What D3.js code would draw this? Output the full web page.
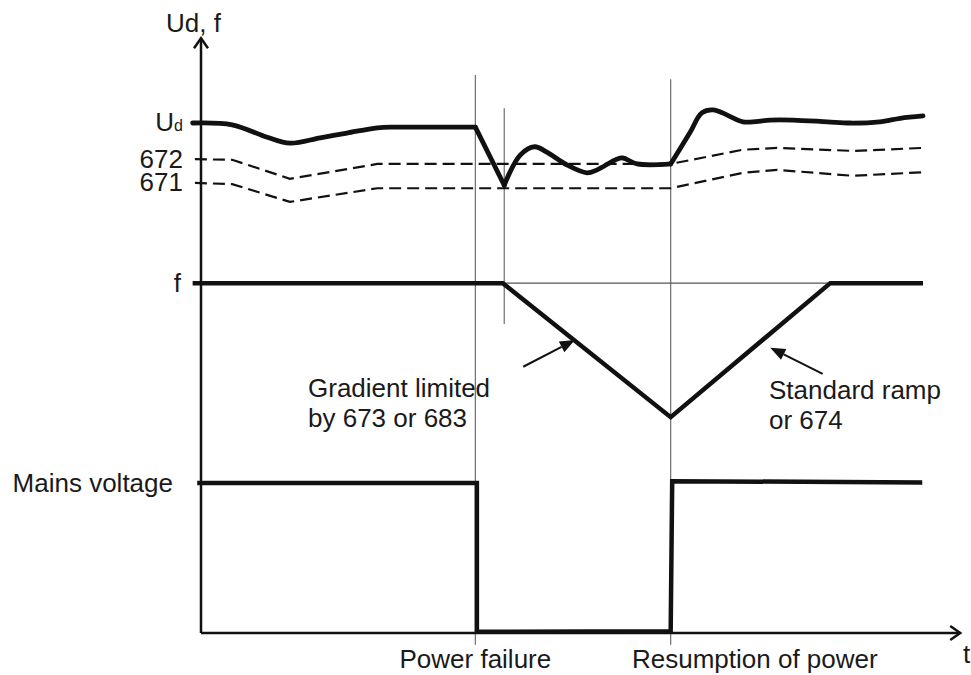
<!DOCTYPE html>
<html>
<head>
<meta charset="utf-8">
<script src="https://cdn.jsdelivr.net/npm/d3@7"></script>
<style>
  html, body { margin: 0; padding: 0; background: #fff; }
  svg { display: block; }
  text { font-family: "Liberation Sans", Arial, sans-serif; font-size: 26px; fill: #1a1a1a; }
</style>
</head>
<body>
<svg id="chart" width="971" height="675"></svg>
<script>
// ---- data (time units 0..100 along t, level units 0..100 up the axis) ----
const udT    = [-1.1, 4.1, 8.7, 11.7, 15.7, 19.2, 23.2, 25.8, 36.1, 39.9, 42.0, 43.9, 45.5, 48.2, 50.8, 52.1, 54.7, 55.5, 57.4, 61.8, 64.3, 65.9, 67.4, 71.3, 72.6, 74.9, 77.9, 82.4, 85.4, 89.3, 92.0, 95.0];
const udV    = [86.0, 85.7, 83.6, 82.6, 83.5, 84.3, 85.2, 85.3, 85.3, 75.5, 80.6, 82.0, 81.1, 78.9, 77.6, 78.1, 79.9, 80.1, 79.1, 79.1, 84.3, 87.7, 88.2, 86.2, 86.2, 86.5, 86.5, 86.2, 86.0, 86.2, 86.8, 87.2];
const udCorners = [36.1, 39.9, 61.8];   // times where Ud has sharp corners
const p672T  = [-0.8, 4.1, 11.7, 23.2, 61.8, 71.3, 75.8, 85.8, 95.0];
const p672V  = [79.9, 79.8, 76.6, 79.1, 79.1, 81.5, 81.8, 81.3, 81.8];
const p671T  = [-0.8, 4.1, 11.7, 23.2, 61.8, 71.3, 75.8, 85.8, 95.0];
const p671V  = [75.9, 75.7, 72.7, 75.0, 75.0, 77.6, 78.1, 77.1, 77.7];
const fT     = [-1.1, 39.7, 61.8, 82.8, 95.0];
const fV     = [59.0, 59.0, 36.4, 59.0, 59.0];
const mainsT = [-0.5, 36.3, 36.3, 61.8, 62.0, 94.9];
const mainsV = [25.3, 25.3, 0.2, 0.3, 25.6, 25.4];
const fRefLine = { t0: 39.7, t1: 82.8, v: 59.0 };
// event marker lines: time, bottom level, top level
const eventT   = [36.1, 39.9, 61.8];
const eventV0  = [-2.0, 52.1, -2.0];
const eventV1  = [94.1, 88.5, 93.4];
// axis tick labels
const tickLabels = ["672", "671", "f", "Mains voltage"];
const tickLevels = [79.9, 75.9, 59.0, 25.3];
const udLevel = 86.0;
// annotations
const annTexts = [["Gradient limited", "by 673 or 683"], ["Standard ramp", "or 674"]];
const annArrowFrom = [[42.4, 44.9], [81.8, 43.7]];
const annArrowTo   = [[49.2, 49.4], [74.9, 48.1]];
const eventLabels = ["Power failure", "Resumption of power"];

// ---- scales ----
const x = d3.scaleLinear().domain([0, 100]).range([201, 961]);
const y = d3.scaleLinear().domain([0, 100]).range([633, 40]);

const svg = d3.select("#chart");
const ink = "#111";

const zip = (a, b) => a.map((d, i) => [d, b[i]]);
const line = d3.line().x(d => x(d[0])).y(d => y(d[1])).curve(d3.curveLinear);
const smooth = d3.line().x(d => x(d[0])).y(d => y(d[1])).curve(d3.curveCatmullRom.alpha(0.5));

// event lines (thin gray)
svg.append("g").selectAll("line").data(eventT).join("line")
  .attr("x1", d => x(d)).attr("x2", d => x(d))
  .attr("y1", (d, i) => y(eventV0[i])).attr("y2", (d, i) => y(eventV1[i]))
  .attr("stroke", "#6e6e6e").attr("stroke-width", 1.2);

// f reference line
svg.append("line")
  .attr("x1", x(fRefLine.t0)).attr("x2", x(fRefLine.t1))
  .attr("y1", y(fRefLine.v)).attr("y2", y(fRefLine.v))
  .attr("stroke", "#555").attr("stroke-width", 1.2);

// axes
const axG = svg.append("g").attr("stroke", ink).attr("stroke-width", 2.5).attr("fill", "none");
axG.append("line").attr("x1", x(0)).attr("x2", x(0)).attr("y1", y(0)).attr("y2", y(100.3));
axG.append("path").attr("d", `M${x(0)-7},${y(100.3)+10} L${x(0)},${y(100.3)} L${x(0)+7},${y(100.3)+10}`);
axG.append("line").attr("x1", x(0)).attr("x2", x(99.9)).attr("y1", y(0)).attr("y2", y(0));
axG.append("path").attr("d", `M${x(99.9)-10},${y(0)-7} L${x(99.9)},${y(0)} L${x(99.9)-10},${y(0)+7}`);

// dashed limit curves
[[p672T, p672V], [p671T, p671V]].forEach(([t, v]) => {
  svg.append("path").attr("d", line(zip(t, v)))
    .attr("fill", "none").attr("stroke", ink).attr("stroke-width", 2.2)
    .attr("stroke-dasharray", "12,6");
});

// Ud: smooth pieces between sharp corners
const udPts = zip(udT, udV);
const cuts = [udT[0], ...udCorners, udT[udT.length - 1]];
for (let k = 0; k < cuts.length - 1; k++) {
  const seg = udPts.filter(p => p[0] >= cuts[k] && p[0] <= cuts[k + 1]);
  const gen = seg.length > 2 ? smooth : line;
  svg.append("path").attr("d", gen(seg))
    .attr("fill", "none").attr("stroke", ink).attr("stroke-width", 4.8)
    .attr("stroke-linejoin", "round").attr("stroke-linecap", "round");
}

// f and mains
[[fT, fV], [mainsT, mainsV]].forEach(([t, v]) => {
  svg.append("path").attr("d", line(zip(t, v)))
    .attr("fill", "none").attr("stroke", ink).attr("stroke-width", 4.5)
    .attr("stroke-linejoin", "miter");
});

// axis labels
svg.append("text").attr("x", 166).attr("y", 32).text("Ud, f");
svg.append("text").attr("x", 963).attr("y", 663).text("t");
const udLab = svg.append("text").attr("x", 183).attr("y", y(udLevel)).attr("dy", "0.3em").attr("text-anchor", "end");
udLab.append("tspan").text("U");
udLab.append("tspan").attr("font-size", "16px").text("d");
svg.append("g").selectAll("text").data(tickLabels).join("text")
  .attr("x", (d, i) => i === 3 ? 173 : (i === 2 ? 181 : 183))
  .attr("y", (d, i) => y(tickLevels[i])).attr("dy", "0.33em")
  .attr("text-anchor", "end").text(d => d);

// event labels
svg.append("text").attr("x", x(eventT[0])).attr("y", 668).attr("text-anchor", "middle").text(eventLabels[0]);
svg.append("text").attr("x", 632).attr("y", 668).text(eventLabels[1]);

// annotation texts
const annPos = [[308, 397], [769, 399]];
annTexts.forEach((lines, i) => {
  lines.forEach((s, j) => {
    svg.append("text").attr("x", annPos[i][0]).attr("y", annPos[i][1] + j * 30).text(s);
  });
});

// annotation arrows
annArrowFrom.forEach((f, i) => {
  const t = annArrowTo[i];
  const x0 = x(f[0]), y0 = y(f[1]), x1 = x(t[0]), y1 = y(t[1]);
  const ang = Math.atan2(y1 - y0, x1 - x0);
  const L = 15, W = 6;
  const bx = x1 - L * Math.cos(ang), by = y1 - L * Math.sin(ang);
  svg.append("line").attr("x1", x0).attr("y1", y0).attr("x2", bx).attr("y2", by)
    .attr("stroke", ink).attr("stroke-width", 2);
  const px = -Math.sin(ang) * W, py = Math.cos(ang) * W;
  svg.append("path")
    .attr("d", `M${x1},${y1} L${bx + px},${by + py} L${bx - px},${by - py} Z`)
    .attr("fill", ink);
});
</script>
</body>
</html>
